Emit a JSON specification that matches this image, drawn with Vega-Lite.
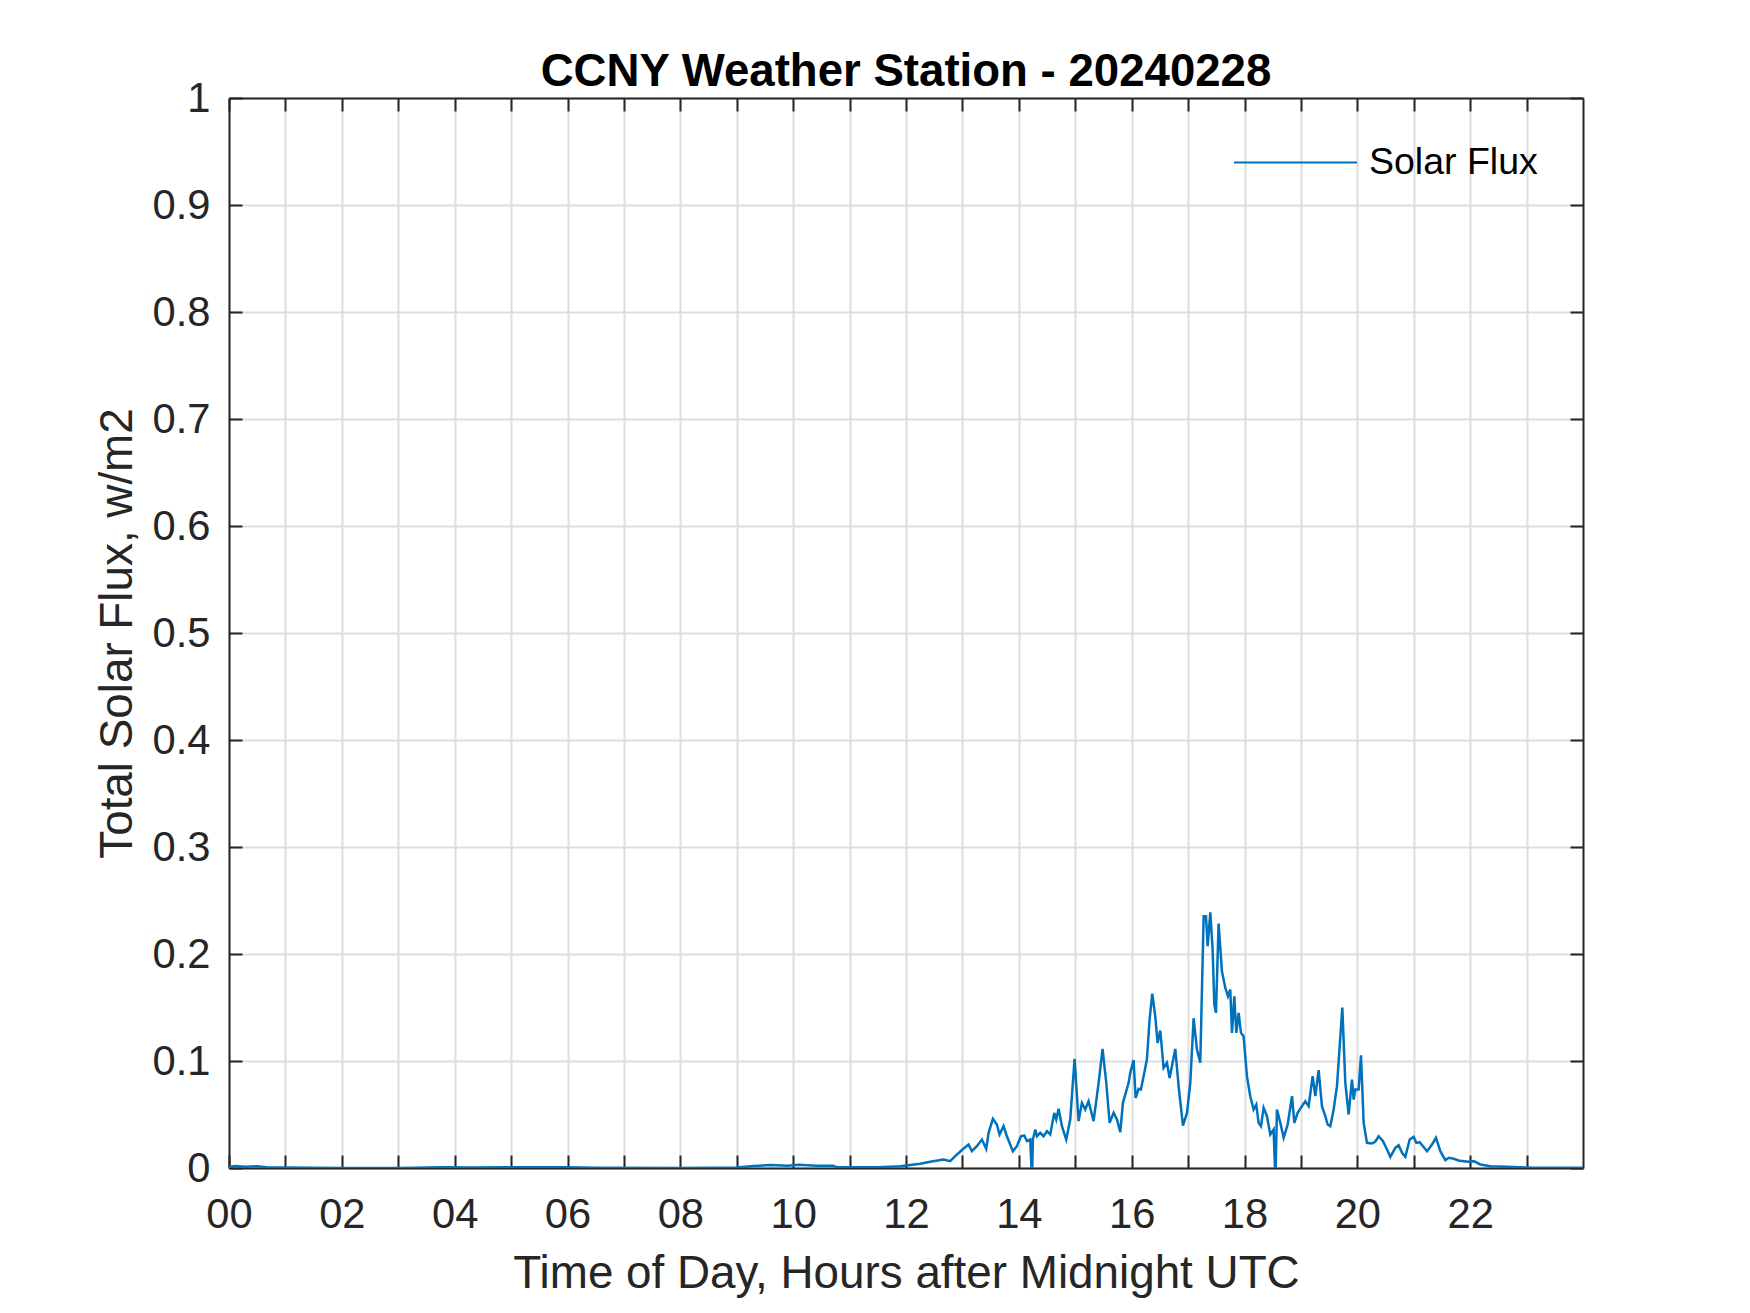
{
  "$schema": "https://vega.github.io/schema/vega-lite/v6.json",
  "width": 1354,
  "height": 1070,
  "autosize": {"type": "none"},
  "padding": {"left": 229, "top": 98, "right": 167, "bottom": 145},
  "background": "white",
  "config": {"view": {"stroke": null}, "font": "Liberation Sans"},
  "title": {
    "text": "CCNY Weather Station - 20240228",
    "fontSize": 45.6,
    "fontWeight": "bold",
    "font": "Liberation Sans",
    "color": "#000000",
    "baseline": "alphabetic",
    "offset": 14,
    "dy": 68,
    "anchor": "middle"
  },
  "data": {
    "values": [
      {"hour": 0.0, "flux": 0.001},
      {"hour": 0.1, "flux": 0.0018},
      {"hour": 0.3, "flux": 0.0012},
      {"hour": 0.5, "flux": 0.0016},
      {"hour": 0.7, "flux": 0.0005},
      {"hour": 1.0, "flux": 0.0004},
      {"hour": 2.0, "flux": 0.0001},
      {"hour": 3.0, "flux": 0.0001},
      {"hour": 3.8, "flux": 0.0008},
      {"hour": 4.3, "flux": 0.0005},
      {"hour": 5.0, "flux": 0.0006},
      {"hour": 6.0, "flux": 0.0007},
      {"hour": 6.5, "flux": 0.0002},
      {"hour": 8.0, "flux": 0.0001},
      {"hour": 9.0, "flux": 0.0005},
      {"hour": 9.3, "flux": 0.0018},
      {"hour": 9.6, "flux": 0.0028},
      {"hour": 9.9, "flux": 0.0022},
      {"hour": 10.1, "flux": 0.003},
      {"hour": 10.4, "flux": 0.0022},
      {"hour": 10.7, "flux": 0.002},
      {"hour": 10.8, "flux": 0.0006},
      {"hour": 11.5, "flux": 0.0006},
      {"hour": 11.897, "flux": 0.0017},
      {"hour": 12.004, "flux": 0.0023},
      {"hour": 12.252, "flux": 0.0039},
      {"hour": 12.429, "flux": 0.0058},
      {"hour": 12.665, "flux": 0.0079},
      {"hour": 12.784, "flux": 0.0064},
      {"hour": 12.872, "flux": 0.0111},
      {"hour": 13.002, "flux": 0.0173},
      {"hour": 13.109, "flux": 0.022},
      {"hour": 13.168, "flux": 0.0157},
      {"hour": 13.256, "flux": 0.0204},
      {"hour": 13.345, "flux": 0.0266},
      {"hour": 13.422, "flux": 0.0179},
      {"hour": 13.464, "flux": 0.0329},
      {"hour": 13.54, "flux": 0.0459},
      {"hour": 13.611, "flux": 0.0406},
      {"hour": 13.658, "flux": 0.0313},
      {"hour": 13.729, "flux": 0.0391},
      {"hour": 13.788, "flux": 0.0297},
      {"hour": 13.895, "flux": 0.0157},
      {"hour": 13.966, "flux": 0.0204},
      {"hour": 14.037, "flux": 0.0297},
      {"hour": 14.096, "flux": 0.0304},
      {"hour": 14.143, "flux": 0.0251},
      {"hour": 14.202, "flux": 0.0266},
      {"hour": 14.225, "flux": 0.0002},
      {"hour": 14.238, "flux": 0.0002},
      {"hour": 14.249, "flux": 0.0266},
      {"hour": 14.291, "flux": 0.036},
      {"hour": 14.32, "flux": 0.0297},
      {"hour": 14.379, "flux": 0.0329},
      {"hour": 14.438, "flux": 0.0297},
      {"hour": 14.498, "flux": 0.0344},
      {"hour": 14.557, "flux": 0.0313},
      {"hour": 14.628, "flux": 0.0515},
      {"hour": 14.663, "flux": 0.0453},
      {"hour": 14.705, "flux": 0.0553},
      {"hour": 14.764, "flux": 0.0391},
      {"hour": 14.84, "flux": 0.0266},
      {"hour": 14.911, "flux": 0.0453},
      {"hour": 14.988, "flux": 0.102},
      {"hour": 15.059, "flux": 0.0438},
      {"hour": 15.118, "flux": 0.0609},
      {"hour": 15.177, "flux": 0.0547},
      {"hour": 15.236, "flux": 0.0624},
      {"hour": 15.325, "flux": 0.0438},
      {"hour": 15.414, "flux": 0.0796},
      {"hour": 15.484, "flux": 0.1113},
      {"hour": 15.55, "flux": 0.0796},
      {"hour": 15.609, "flux": 0.0422},
      {"hour": 15.68, "flux": 0.0515},
      {"hour": 15.739, "flux": 0.0453},
      {"hour": 15.798, "flux": 0.0335},
      {"hour": 15.845, "flux": 0.0609},
      {"hour": 15.946, "flux": 0.0796},
      {"hour": 15.975, "flux": 0.0889},
      {"hour": 16.034, "flux": 0.1008},
      {"hour": 16.07, "flux": 0.0656},
      {"hour": 16.123, "flux": 0.074},
      {"hour": 16.164, "flux": 0.0733},
      {"hour": 16.211, "flux": 0.0858},
      {"hour": 16.27, "flux": 0.1014},
      {"hour": 16.318, "flux": 0.1388},
      {"hour": 16.365, "flux": 0.163},
      {"hour": 16.418, "flux": 0.1419},
      {"hour": 16.46, "flux": 0.1169},
      {"hour": 16.507, "flux": 0.1285},
      {"hour": 16.566, "flux": 0.0936},
      {"hour": 16.625, "flux": 0.0983},
      {"hour": 16.673, "flux": 0.0842},
      {"hour": 16.773, "flux": 0.1113},
      {"hour": 16.832, "flux": 0.0765},
      {"hour": 16.909, "flux": 0.0397},
      {"hour": 16.98, "flux": 0.0515},
      {"hour": 17.039, "flux": 0.0796},
      {"hour": 17.098, "flux": 0.14},
      {"hour": 17.157, "flux": 0.1107},
      {"hour": 17.216, "flux": 0.0983},
      {"hour": 17.276, "flux": 0.2353},
      {"hour": 17.317, "flux": 0.2353},
      {"hour": 17.347, "flux": 0.2073},
      {"hour": 17.394, "flux": 0.239},
      {"hour": 17.435, "flux": 0.204},
      {"hour": 17.465, "flux": 0.1528},
      {"hour": 17.494, "flux": 0.145},
      {"hour": 17.541, "flux": 0.2284},
      {"hour": 17.6, "flux": 0.1839},
      {"hour": 17.66, "flux": 0.1683},
      {"hour": 17.707, "flux": 0.1605},
      {"hour": 17.748, "flux": 0.1668},
      {"hour": 17.778, "flux": 0.1263},
      {"hour": 17.819, "flux": 0.1605},
      {"hour": 17.855, "flux": 0.1263},
      {"hour": 17.896, "flux": 0.145},
      {"hour": 17.937, "flux": 0.1263},
      {"hour": 17.984, "flux": 0.1232},
      {"hour": 18.043, "flux": 0.0858},
      {"hour": 18.102, "flux": 0.0671},
      {"hour": 18.162, "flux": 0.0547},
      {"hour": 18.209, "flux": 0.0593},
      {"hour": 18.25, "flux": 0.0422},
      {"hour": 18.292, "flux": 0.0391},
      {"hour": 18.339, "flux": 0.0562},
      {"hour": 18.398, "flux": 0.0484},
      {"hour": 18.457, "flux": 0.0313},
      {"hour": 18.516, "flux": 0.036},
      {"hour": 18.54, "flux": 0.0002},
      {"hour": 18.553, "flux": 0.0002},
      {"hour": 18.575, "flux": 0.0547},
      {"hour": 18.635, "flux": 0.0422},
      {"hour": 18.694, "flux": 0.0282},
      {"hour": 18.765, "flux": 0.0406},
      {"hour": 18.842, "flux": 0.0671},
      {"hour": 18.883, "flux": 0.0422},
      {"hour": 18.942, "flux": 0.0515},
      {"hour": 19.019, "flux": 0.0578},
      {"hour": 19.078, "flux": 0.0624},
      {"hour": 19.137, "flux": 0.0578},
      {"hour": 19.208, "flux": 0.0858},
      {"hour": 19.255, "flux": 0.0671},
      {"hour": 19.314, "flux": 0.0914},
      {"hour": 19.373, "flux": 0.0578},
      {"hour": 19.432, "flux": 0.0484},
      {"hour": 19.474, "flux": 0.0406},
      {"hour": 19.521, "flux": 0.0391},
      {"hour": 19.58, "flux": 0.0547},
      {"hour": 19.639, "flux": 0.0765},
      {"hour": 19.734, "flux": 0.15},
      {"hour": 19.787, "flux": 0.0796},
      {"hour": 19.846, "flux": 0.05},
      {"hour": 19.905, "flux": 0.0827},
      {"hour": 19.935, "flux": 0.064},
      {"hour": 19.964, "flux": 0.0733},
      {"hour": 20.023, "flux": 0.0733},
      {"hour": 20.065, "flux": 0.1054},
      {"hour": 20.112, "flux": 0.0422},
      {"hour": 20.171, "flux": 0.0235},
      {"hour": 20.26, "flux": 0.0229},
      {"hour": 20.319, "flux": 0.0248},
      {"hour": 20.378, "flux": 0.0297},
      {"hour": 20.455, "flux": 0.0251},
      {"hour": 20.526, "flux": 0.0173},
      {"hour": 20.585, "flux": 0.0104},
      {"hour": 20.673, "flux": 0.0188},
      {"hour": 20.732, "flux": 0.0213},
      {"hour": 20.792, "flux": 0.0142},
      {"hour": 20.851, "flux": 0.0104},
      {"hour": 20.928, "flux": 0.0266},
      {"hour": 20.998, "flux": 0.0291},
      {"hour": 21.046, "flux": 0.0235},
      {"hour": 21.105, "flux": 0.0241},
      {"hour": 21.164, "flux": 0.0204},
      {"hour": 21.235, "flux": 0.0157},
      {"hour": 21.324, "flux": 0.022},
      {"hour": 21.394, "flux": 0.0282},
      {"hour": 21.471, "flux": 0.0157},
      {"hour": 21.56, "flux": 0.0073},
      {"hour": 21.619, "flux": 0.0095},
      {"hour": 21.708, "flux": 0.0086},
      {"hour": 21.796, "flux": 0.007},
      {"hour": 21.885, "flux": 0.0064},
      {"hour": 21.974, "flux": 0.0058},
      {"hour": 22.062, "flux": 0.0064},
      {"hour": 22.18, "flux": 0.0033},
      {"hour": 22.358, "flux": 0.0017},
      {"hour": 22.653, "flux": 0.0011},
      {"hour": 23.126, "flux": 0.0002},
      {"hour": 23.983, "flux": 0.0002}
    ]
  },
  "layer": [
    {
      "mark": {"type": "line", "strokeWidth": 2.5, "clip": true},
      "encoding": {
        "x": {
          "field": "hour",
          "type": "quantitative",
          "scale": {"domain": [0, 24], "nice": false, "zero": false},
          "axis": {
            "orient": "bottom",
            "values": [0, 1, 2, 3, 4, 5, 6, 7, 8, 9, 10, 11, 12, 13, 14, 15, 16, 17, 18, 19, 20, 21, 22, 23],
            "labelExpr": "datum.value % 2 == 0 ? (datum.value < 10 ? '0' + datum.value : '' + datum.value) : ''",
            "grid": true,
            "gridColor": "#dedede",
            "gridWidth": 2,
            "domainColor": "#262626",
            "domainWidth": 2,
            "tickColor": "#262626",
            "tickWidth": 2,
            "tickSize": -13,
            "labelFontSize": 41.7,
            "labelFont": "Liberation Sans",
            "labelColor": "#262626",
            "labelBaseline": "alphabetic",
            "labelPadding": 72,
            "labelFlush": false,
            "labelOverlap": false,
            "title": "Time of Day, Hours after Midnight UTC",
            "titleFont": "Liberation Sans",
            "titleFontSize": 45.8,
            "titleFontWeight": "normal",
            "titleColor": "#262626",
            "titleX": 677,
            "titleY": 119.5,
            "titleBaseline": "alphabetic",
            "titleAlign": "center"
          }
        },
        "y": {
          "field": "flux",
          "type": "quantitative",
          "scale": {"domain": [0, 1], "nice": false},
          "axis": {
            "orient": "left",
            "values": [0, 0.1, 0.2, 0.3, 0.4, 0.5, 0.6, 0.7, 0.8, 0.9, 1],
            "format": "~g",
            "grid": true,
            "gridColor": "#dedede",
            "gridWidth": 2,
            "domainColor": "#262626",
            "domainWidth": 2,
            "tickColor": "#262626",
            "tickWidth": 2,
            "tickSize": -13,
            "labelFontSize": 41.7,
            "labelFont": "Liberation Sans",
            "labelColor": "#262626",
            "labelBaseline": "middle",
            "labelPadding": 32,
            "labelFlush": false,
            "labelOverlap": false,
            "title": "Total Solar Flux, w/m2",
            "titleFont": "Liberation Sans",
            "titleFontSize": 45.8,
            "titleFontWeight": "normal",
            "titleColor": "#262626",
            "titleX": -98,
            "titleY": 535,
            "titleAngle": -90,
            "titleBaseline": "alphabetic",
            "titleAlign": "center"
          }
        },
        "color": {
          "datum": "Solar Flux",
          "type": "nominal",
          "scale": {"range": ["#0072BD"]},
          "legend": {
            "orient": "none",
            "legendX": 1004,
            "legendY": 2,
            "title": null,
            "symbolType": "stroke",
            "symbolSize": 15129,
            "symbolStrokeWidth": 2,
            "labelFont": "Liberation Sans",
            "labelFontSize": 37.5,
            "labelColor": "#000000",
            "labelOffset": 11,
            "labelBaseline": "middle",
            "labelLimit": 400,
            "padding": 0
          }
        }
      }
    },
    {
      "mark": {"type": "line", "opacity": 0},
      "encoding": {
        "x": {
          "field": "hour",
          "type": "quantitative",
          "axis": {
            "orient": "top",
            "values": [0, 1, 2, 3, 4, 5, 6, 7, 8, 9, 10, 11, 12, 13, 14, 15, 16, 17, 18, 19, 20, 21, 22, 23],
            "labels": false,
            "grid": false,
            "domainColor": "#262626",
            "domainWidth": 2,
            "tickColor": "#262626",
            "tickWidth": 2,
            "tickSize": -13,
            "title": null
          }
        },
        "y": {
          "field": "flux",
          "type": "quantitative",
          "axis": {
            "orient": "right",
            "values": [0, 0.1, 0.2, 0.3, 0.4, 0.5, 0.6, 0.7, 0.8, 0.9, 1],
            "labels": false,
            "grid": false,
            "domainColor": "#262626",
            "domainWidth": 2,
            "tickColor": "#262626",
            "tickWidth": 2,
            "tickSize": -13,
            "title": null
          }
        }
      }
    }
  ],
  "resolve": {"axis": {"x": "independent", "y": "independent"}}
}
